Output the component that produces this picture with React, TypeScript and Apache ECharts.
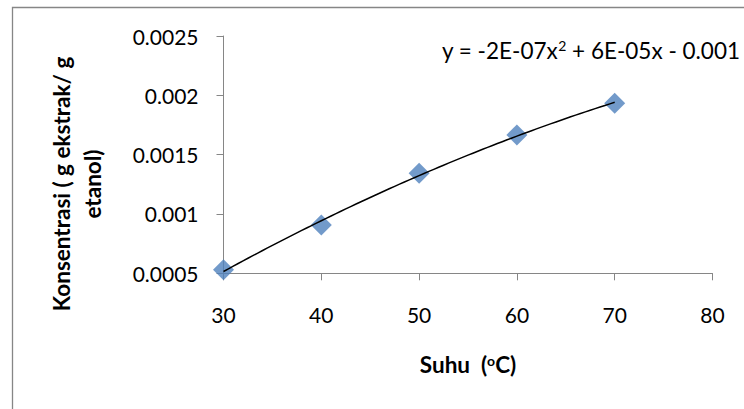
import React, { useEffect, useRef } from "react";
import * as echarts from "echarts";

// Data
const suhu = [30, 40, 50, 60, 70];
const konsentrasi = [0.00053, 0.000907, 0.001343, 0.001666, 0.001933];

// Axis settings / tick labels
const xMin = 30;
const xMax = 80;
const xInterval = 10;
const yMin = 0.0005;
const yMax = 0.0025;
const yInterval = 0.0005;
const yTickLabels = ["0.0005", "0.001", "0.0015", "0.002", "0.0025"];

const xTitle = "Suhu  ({sup|o}C)";
const yTitleLines = ["Konsentrasi ( g ekstrak/ g", "etanol)"];
const equation = "y = -2E-07x{sup|2} + 6E-05x - 0.001";

// Least-squares polynomial (order 2) trendline, as the spreadsheet computes it from the data
function quadFit(xs: number[], ys: number[]): [number, number, number] {
  const n = xs.length;
  let s0 = n, s1 = 0, s2 = 0, s3 = 0, s4 = 0, t0 = 0, t1 = 0, t2 = 0;
  for (let i = 0; i < n; i++) {
    const x = xs[i], y = ys[i];
    s1 += x; s2 += x * x; s3 += x * x * x; s4 += x * x * x * x;
    t0 += y; t1 += x * y; t2 += x * x * y;
  }
  const M = [
    [s0, s1, s2, t0],
    [s1, s2, s3, t1],
    [s2, s3, s4, t2],
  ];
  for (let c = 0; c < 3; c++) {
    let p = c;
    for (let r = c + 1; r < 3; r++) if (Math.abs(M[r][c]) > Math.abs(M[p][c])) p = r;
    [M[c], M[p]] = [M[p], M[c]];
    for (let r = 0; r < 3; r++) {
      if (r === c) continue;
      const f = M[r][c] / M[c][c];
      for (let k = c; k < 4; k++) M[r][k] -= f * M[c][k];
    }
  }
  return [M[0][3] / M[0][0], M[1][3] / M[1][1], M[2][3] / M[2][2]];
}

export default function App() {
  const ref = useRef<HTMLDivElement>(null);
  useEffect(() => {
    document.body.style.margin = "0";
    if (!ref.current) return;
    const chart = echarts.init(ref.current, undefined, { renderer: "svg" });
    const [c0, c1, c2] = quadFit(suhu, konsentrasi);
    const trend: number[][] = [];
    const x0 = suhu[0], x1 = suhu[suhu.length - 1];
    for (let k = 0; k <= 80; k++) {
      const x = x0 + ((x1 - x0) * k) / 80;
      trend.push([x, c0 + c1 * x + c2 * x * x]);
    }
    const font = "Lato, 'Open Sans', sans-serif";
    chart.setOption({
      animation: false,
      textStyle: { fontFamily: font },
      grid: { left: 223.5, right: 31.5, top: 36, bottom: 135.7, containLabel: false },
      xAxis: {
        type: "value",
        min: xMin,
        max: xMax,
        interval: xInterval,
        splitLine: { show: false },
        axisLine: { show: true, lineStyle: { color: "#868686", width: 1 } },
        axisTick: { show: true, length: 7, lineStyle: { color: "#868686" } },
        axisLabel: { color: "#000", fontSize: 21, fontFamily: font, margin: 31 },
        name: xTitle,
        nameLocation: "middle",
        nameGap: 80,
        nameTextStyle: {
          color: "#000",
          fontSize: 22.5,
          fontWeight: "bold",
          fontFamily: font,
          rich: {
            sup: { fontSize: 14, fontWeight: "bold", fontFamily: font, verticalAlign: "top", color: "#000" },
          },
        },
      },
      yAxis: {
        type: "value",
        min: yMin,
        max: yMax,
        interval: yInterval,
        splitLine: { show: false },
        axisLine: { show: true, lineStyle: { color: "#868686", width: 1 } },
        axisTick: { show: true, length: 7, lineStyle: { color: "#868686" } },
        axisLabel: {
          color: "#000",
          fontSize: 21,
          fontFamily: font,
          margin: 25,
          formatter: (v: number) => {
            const i = Math.round((v - yMin) / yInterval);
            return yTickLabels[i] ?? String(v);
          },
        },
      },
      graphic: [
        {
          type: "rect",
          silent: true,
          shape: { x: 12.5, y: 7.5, width: 800, height: 500 },
          style: { fill: "none", stroke: "#868686", lineWidth: 1.3 },
        },
        {
          type: "text",
          x: 77,
          y: 184,
          rotation: Math.PI / 2,
          style: {
            text: yTitleLines.join("\n"),
            fontSize: 22.5,
            fontWeight: "bold",
            fontFamily: font,
            fill: "#000",
            align: "center",
            verticalAlign: "middle",
            lineHeight: 31,
          },
        },
        {
          type: "text",
          x: 442,
          y: 50,
          style: {
            text: equation,
            fontSize: 22.5,
            fontFamily: font,
            fill: "#000",
            align: "left",
            verticalAlign: "middle",
            rich: {
              sup: { fontSize: 14, fontFamily: font, verticalAlign: "top", fill: "#000" },
            },
          },
        },
      ],
      series: [
        {
          type: "scatter",
          data: suhu.map((x, i) => [x, konsentrasi[i]]),
          symbol: "diamond",
          symbolSize: 21,
          itemStyle: { color: "#4f81bd" },
          z: 2,
        },
        {
          type: "line",
          data: trend,
          showSymbol: false,
          symbol: "none",
          lineStyle: { color: "#000", width: 1.5 },
          z: 3,
        },
      ],
    });
    return () => chart.dispose();
  }, []);
  return <div ref={ref} style={{ width: 744, height: 409 }} />;
}
